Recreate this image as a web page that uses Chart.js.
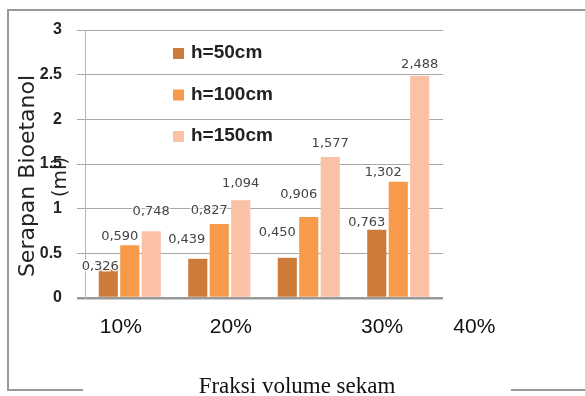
<!DOCTYPE html>
<html>
<head>
<meta charset="utf-8">
<script src="https://cdn.jsdelivr.net/npm/chart.js@4.4.1/dist/chart.umd.min.js"></script>
<style>
  html, body { margin: 0; padding: 0; background: #fff; }
  canvas { display: block; }
</style>
</head>
<body>
<canvas id="serapanChart" width="585" height="396"></canvas>
<script>
// categories (volume fraction of husk)
const categories = ['10%', '20%', '30%', '40%'];
// where each category label sits, in category units (labels are shifted in the original)
const labelSpots = [-0.1, 1.13, 2.82, 3.85];

const seriesNames = ['h=50cm', 'h=100cm', 'h=150cm'];
const h50 = [0.326, 0.439, 0.450, 0.763];
const h100 = [0.590, 0.827, 0.906, 1.302];
const h150 = [0.748, 1.094, 1.577, 2.488];

const yTicks = [0, 0.5, 1, 1.5, 2, 2.5, 3];

// value label nudges (px, relative to bar top centre)
const nudgeX = [[-8, -11, -10, -10], [-10, -10, -10, -15], [0, 0, 0, 0]];
const nudgeY = [[-2, -19, -25, -7], [-9, -13, -22, -9], [-20, -17, -13, -11]];

const colors = ['#CC7B3A', '#F79A4A', '#FAC1A4'];

const decorPlugin = {
    id: 'decor',
    beforeDraw(chart) {
        const c = chart.ctx;
        c.save();
        c.strokeStyle = '#9a9a9a';
        c.lineWidth = 2;
        c.beginPath();
        c.moveTo(7, 10); c.lineTo(585, 10);
        c.moveTo(8, 10); c.lineTo(8, 390);
        c.moveTo(7, 390); c.lineTo(83, 390);
        c.moveTo(511, 390); c.lineTo(585, 390);
        c.stroke();
        c.restore();
    },
    afterDraw(chart) {
        const c = chart.ctx;
        const xScale = chart.scales.x;
        c.save();
        c.fillStyle = '#222';
        c.textAlign = 'center';
        c.textBaseline = 'middle';
        // y title, two lines
        c.save();
        c.translate(28, 176);
        c.rotate(-Math.PI / 2);
        c.font = '22px "DejaVu Sans"';
        c.fillText('Serapan Bioetanol', 0, 0);
        c.restore();
        c.save();
        c.translate(61, 177);
        c.rotate(-Math.PI / 2);
        c.font = '20px "DejaVu Sans"';
        c.fillText('(ml)', 0, 0);
        c.restore();
        // category labels, placed through the x scale
        c.fillStyle = '#111';
        c.font = '21px "Liberation Sans"';
        categories.forEach((cat, i) => {
            c.fillText(cat, xScale.getPixelForValue(labelSpots[i]), 327);
        });
        // x title
        c.font = '23px "Liberation Serif"';
        c.textBaseline = 'alphabetic';
        c.fillText('Fraksi volume sekam', 297, 393);
        // legend
        c.textAlign = 'left';
        c.textBaseline = 'middle';
        c.font = 'bold 19px "Liberation Sans"';
        chart.data.datasets.forEach((ds, i) => {
            const y = 53 + i * 41.5;
            c.fillStyle = ds.backgroundColor;
            c.fillRect(173, y - 5, 11, 11);
            c.fillStyle = '#222';
            c.fillText(ds.label, 191, y);
        });
        c.restore();
    },
    afterDatasetsDraw(chart) {
        const c = chart.ctx;
        c.save();
        c.font = '13px "DejaVu Sans"';
        c.textAlign = 'center';
        c.textBaseline = 'middle';
        chart.data.datasets.forEach((ds, i) => {
            chart.getDatasetMeta(i).data.forEach((bar, j) => {
                const txt = ds.data[j].toFixed(3).replace('.', ',');
                const x = bar.x + nudgeX[i][j];
                const y = bar.y + nudgeY[i][j];
                c.lineWidth = 3;
                c.strokeStyle = 'rgba(255,255,255,0.8)';
                c.strokeText(txt, x, y);
                c.fillStyle = '#444';
                c.fillText(txt, x, y);
            });
        });
        c.restore();
    }
};

const ctx = document.getElementById('serapanChart').getContext('2d');
new Chart(ctx, {
    type: 'bar',
    data: {
        labels: categories,
        datasets: [h50, h100, h150].map((vals, i) => ({
            label: seriesNames[i],
            data: vals,
            backgroundColor: colors[i],
            borderWidth: 0,
            categoryPercentage: 0.72,
            barPercentage: 0.89,
        })),
    },
    options: {
        responsive: false,
        animation: false,
        devicePixelRatio: 1,
        layout: { padding: { top: 30, right: 142, left: 0, bottom: 98 } },
        plugins: {
            legend: { display: false },
            tooltip: { enabled: false },
        },
        scales: {
            x: { display: false },
            y: {
                min: 0,
                max: 3,
                afterBuildTicks: (scale) => {
                    scale.ticks = yTicks.map((v) => ({ value: v }));
                },
                afterFit: (scale) => { scale.width = 85; },
                grid: {
                    color: (c) => (c.tick && c.tick.value === 0 ? '#999' : '#a8a8a8'),
                    lineWidth: (c) => (c.tick && c.tick.value === 0 ? 2.5 : 1),
                    tickLength: 8,
                },
                border: { color: '#b5b5b5', width: 1 },
                ticks: {
                    padding: 15,
                    color: '#222',
                    font: { family: 'Liberation Sans', size: 16, weight: 'bold' },
                    callback: (value) => String(value),
                },
            },
        },
    },
    plugins: [decorPlugin],
});
</script>
</body>
</html>
